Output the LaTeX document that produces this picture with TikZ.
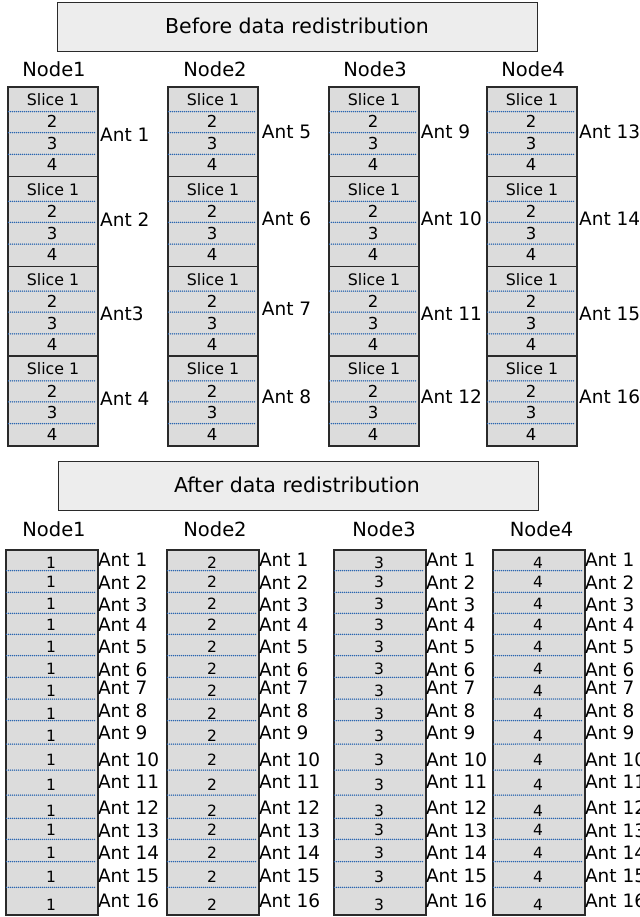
\documentclass[tikz,border=0pt]{standalone}
\usepackage{fontspec}
\setmainfont{DejaVu Sans}
\definecolor{boxline}{HTML}{2A2A2A}
\definecolor{cellfill}{HTML}{DCDCDC}
\definecolor{titlefill}{HTML}{EDEDED}
\definecolor{dotblue}{HTML}{2A66B0}
\tikzset{
  titlebox/.style={draw=boxline, fill=titlefill, line width=1.3pt, anchor=north west,
    minimum width=480pt, minimum height=49pt, inner sep=0pt},
  titletext/.style={anchor=base, inner sep=0pt, font=\fontsize{20.5}{24}\selectfont},
  nodetext/.style={anchor=base, inner sep=0pt, font=\fontsize{19.5}{23}\selectfont},
  blockbox/.style={draw=boxline, fill=cellfill, line width=1.6pt, anchor=north west, inner sep=0pt},
  dotline/.style={draw=dotblue, line width=1.5pt, line cap=round, dash pattern=on 0pt off 2pt},
  slicetext/.style={anchor=base, inner sep=0pt, font=\fontsize{15.8}{18}\selectfont},
  digittext/.style={anchor=base, inner sep=0pt, font=\fontsize{16.5}{19}\selectfont},
  numtext/.style={anchor=base, inner sep=0pt, font=\fontsize{15.5}{18}\selectfont},
  anttext/.style={anchor=base west, inner sep=0pt, font=\fontsize{18.5}{22}\selectfont},
}
\begin{document}
\begin{tikzpicture}[x=1pt, y=-1pt]
\useasboundingbox (0,0) rectangle (639,917);

% ---------- before redistribution ----------
\node[titlebox] (tbefore) at (57,2) {};
\node[titletext] (tbeforetxt) at (297,33.3) {Before data redistribution};

\foreach \c/\xc in {1/54,2/215,3/375,4/533}
  \node[nodetext] (toplbl\c) at (\xc,76.7) {Node\c};

% four columns, four antenna blocks each, four slices per block
\foreach \c/\x in {1/7,2/167,3/328,4/486} {
  \foreach \b in {0,...,3} {
    \pgfmathsetmacro\yt{86+89.75*\b}
    \node[blockbox, minimum width=90pt, minimum height=89.75pt] (blk\c\b) at (\x,\yt) {};
    \foreach \d in {25.7,46.7,68.3}
      \draw[dotline] (\x+1.5,\yt+\d) -- (\x+88.8,\yt+\d);
    \node[slicetext] (s\c\b a) at (\x+46,\yt+19.5) {Slice 1};
    \node[digittext] (s\c\b b) at (\x+45,\yt+42) {2};
    \node[digittext] (s\c\b c) at (\x+45,\yt+63.5) {3};
    \node[digittext] (s\c\b d) at (\x+45,\yt+85) {4};
  }
}

% antenna labels beside the blocks
\node[anttext] (ta1) at (100,141.7) {Ant 1};
\node[anttext] (ta2) at (100,226.7) {Ant 2};
\node[anttext] (ta3) at (100,320.7) {Ant3};
\node[anttext] (ta4) at (100,405) {Ant 4};
\node[anttext] (ta5) at (261.7,138.3) {Ant 5};
\node[anttext] (ta6) at (261.7,225.7) {Ant 6};
\node[anttext] (ta7) at (261.7,315.7) {Ant 7};
\node[anttext] (ta8) at (261.7,403.3) {Ant 8};
\node[anttext] (ta9) at (420.7,138.3) {Ant 9};
\node[anttext] (ta10) at (420.7,225.7) {Ant 10};
\node[anttext] (ta11) at (420.7,320) {Ant 11};
\node[anttext] (ta12) at (420.7,403.3) {Ant 12};
\node[anttext] (ta13) at (579,138.3) {Ant 13};
\node[anttext] (ta14) at (579,225.7) {Ant 14};
\node[anttext] (ta15) at (579,320) {Ant 15};
\node[anttext] (ta16) at (579,403.3) {Ant 16};

% ---------- after redistribution ----------
\node[titlebox] (tafter) at (58,461) {};
\node[titletext] (taftertxt) at (297,492.7) {After data redistribution};

\foreach \c/\xc in {1/54,2/215,3/384,4/541.5}
  \node[nodetext] (botlbl\c) at (\xc,536) {Node\c};

\foreach \c/\x in {1/5,2/166,3/333,4/492} {
  \node[blockbox, minimum width=92pt, minimum height=365pt] (col\c) at (\x,549.3) {};
  \foreach \d in {570.7,592.3,613.3,634.3,655.7,677.3,699,720.7,744,770,795,818.3,839.3,861.7,887.3}
    \draw[dotline] (\x+1.5,\d) -- (\x+90.8,\d);
  \foreach \yb [count=\k] in {568.3,587.3,609.3,630,652.3,674,696,719,741.7,765,790,816.7,835,858.3,882.7,910}
    \node[numtext] (num\c-\k) at (\x+46,\yb) {\c};
  \foreach \yb [count=\k] in {566.7,589,611.7,631.7,653.3,676,694,717.3,739.3,766.7,788.3,814.3,837.3,859.3,882.7,907.3}
    \node[anttext] (ant\c-\k) at (\x+92.8,\yb) {Ant \k};
}
\end{tikzpicture}
\end{document}
